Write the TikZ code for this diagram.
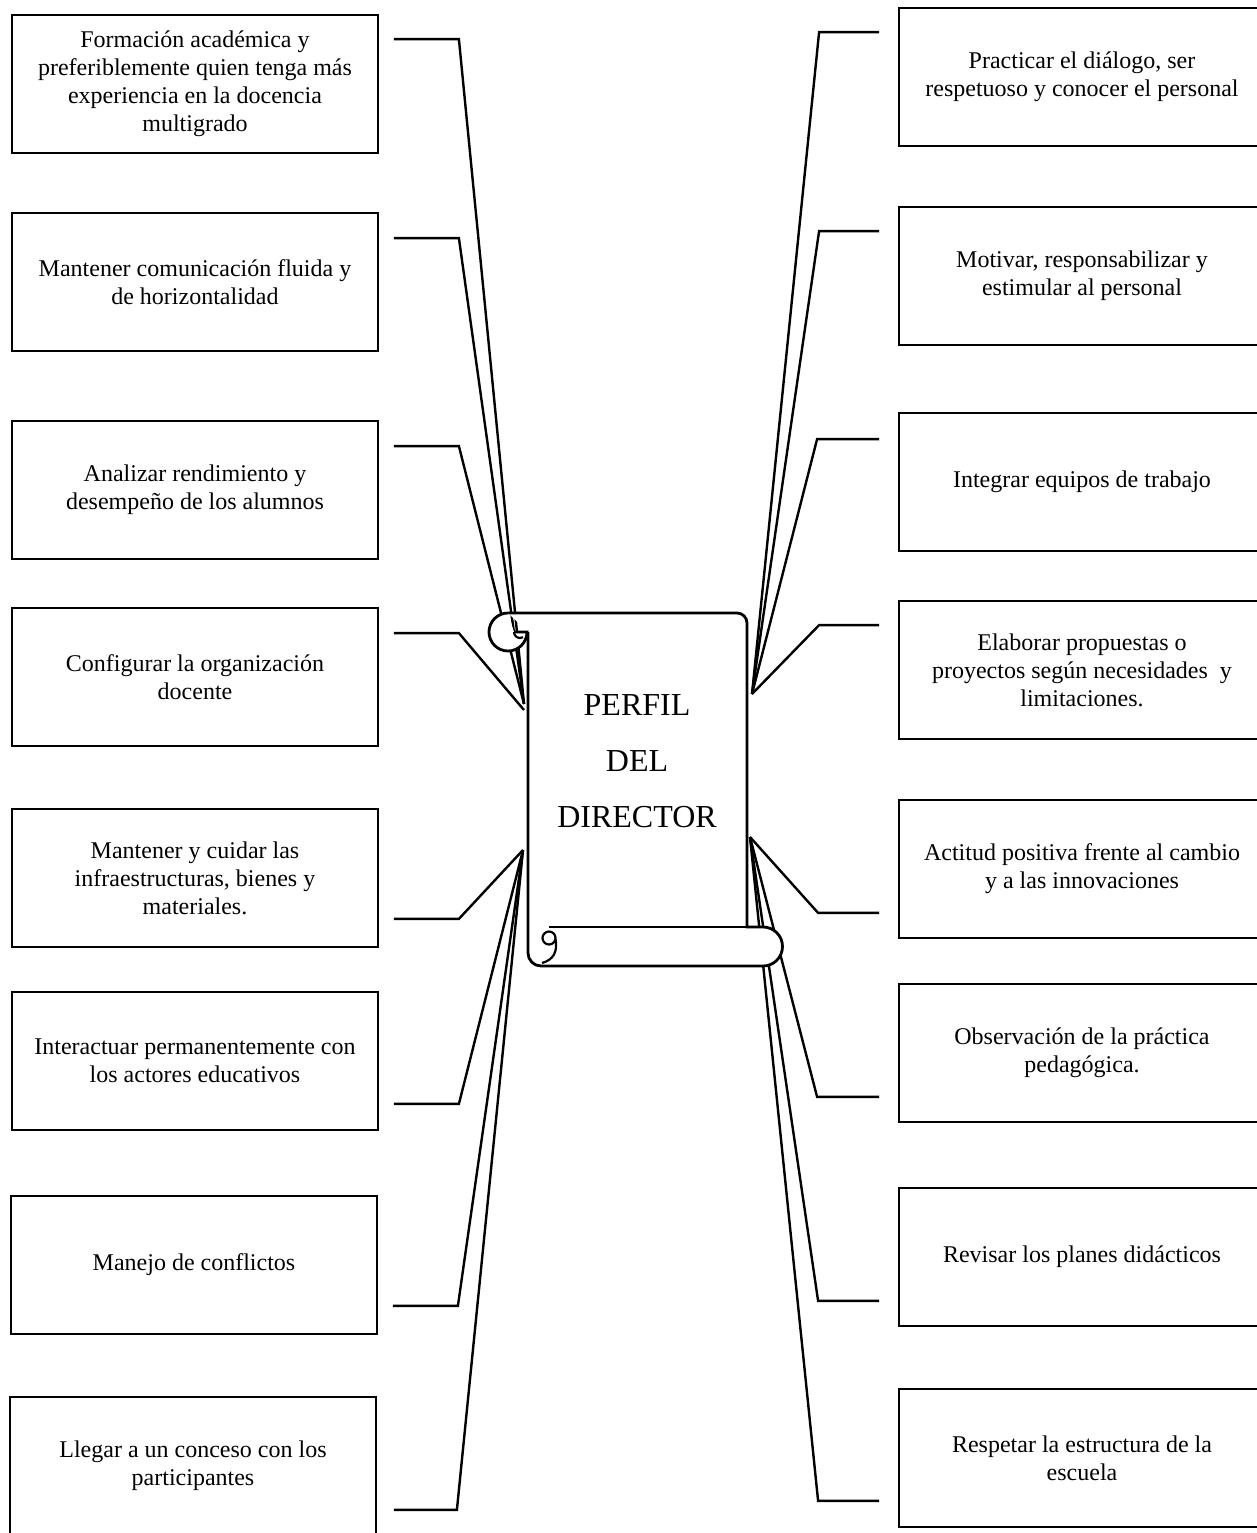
\documentclass[tikz,border=0pt]{standalone}
\usepackage{fontspec}
\setmainfont{Liberation Serif}
\usetikzlibrary{calc}

\tikzset{
  item/.style={draw,line width=0.9pt,minimum width=183pt,minimum height=69pt,
    align=center,inner sep=2pt,font=\fontsize{12}{14}\selectfont},
  link/.style={line width=1.2pt},
  roll/.style={line width=1.4pt,fill=white}
}

\begin{document}
\begin{tikzpicture}[x=0.5pt,y=-0.5pt]
  \useasboundingbox (0,0) rectangle (1257,1533);
  \clip (0,0) rectangle (1257,1533);

  \node[item] (l1) at (195,84) {Formación académica y\\preferiblemente quien tenga más\\experiencia en la docencia\\multigrado};
  \node[item] (l2) at (195,282) {Mantener comunicación fluida y\\de horizontalidad};
  \node[item] (l3) at (195,490) {Analizar rendimiento y\\desempeño de los alumnos};
  \node[item] (l4) at (195,677) {Configurar la organización\\docente};
  \node[item] (l5) at (195,878) {Mantener y cuidar las\\infraestructuras, bienes y\\materiales.};
  \node[item] (l6) at (195,1061) {Interactuar permanentemente con\\los actores educativos};
  \node[item] (l7) at (194,1265) {Manejo de conflictos};
  \node[item] (l8) at (193,1466) {Llegar a un conceso con los\\participantes};

  \node[item] (r1) at (1082,77) {Practicar el diálogo, ser\\respetuoso y conocer el personal};
  \node[item] (r2) at (1082,276) {Motivar, responsabilizar y\\estimular al personal};
  \node[item] (r3) at (1082,482) {Integrar equipos de trabajo};
  \node[item] (r4) at (1082,670) {Elaborar propuestas o\\proyectos según necesidades\ \ y\\limitaciones.};
  \node[item] (r5) at (1082,869) {Actitud positiva frente al cambio\\y a las innovaciones};
  \node[item] (r6) at (1082,1053) {Observación de la práctica\\pedagógica.};
  \node[item] (r7) at (1082,1257) {Revisar los planes didácticos};
  \node[item] (r8) at (1082,1458) {Respetar la estructura de la\\escuela};

  \coordinate (pl-top) at (524,704);
  \coordinate (pl-mid) at (524,710);
  \coordinate (pl-bot) at (523,850);
  \coordinate (pr-top) at (752,694);
  \coordinate (pr-bot) at (750,837);

  \draw[link] ([shift={(15,25)}]l1.north east) -- ++(65,0) -- (pl-top);
  \draw[link] ([shift={(15,26)}]l2.north east) -- ++(65,0) -- (pl-top);
  \draw[link] ([shift={(15,26)}]l3.north east) -- ++(65,0) -- (pl-top);
  \draw[link] ([shift={(15,26)}]l4.north east) -- ++(65,0) -- (pl-mid);
  \draw[link] ([shift={(15,-29)}]l5.south east) -- ++(65,0) -- (pl-bot);
  \draw[link] ([shift={(15,-27)}]l6.south east) -- ++(65,0) -- (pl-bot);
  \draw[link] ([shift={(15,-29)}]l7.south east) -- ++(65,0) -- (pl-bot);
  \draw[link] ([shift={(17,-26)}]l8.south east) -- ++(63,0) -- (pl-bot);

  \draw[link] ([shift={(-19,25)}]r1.north west) -- ++(-60,0) -- (pr-top);
  \draw[link] ([shift={(-19,25)}]r2.north west) -- ++(-60,0) -- (pr-top);
  \draw[link] ([shift={(-19,27)}]r3.north west) -- ++(-62,0) -- (pr-top);
  \draw[link] ([shift={(-19,25)}]r4.north west) -- ++(-60,0) -- (pr-top);
  \draw[link] ([shift={(-19,-26)}]r5.south west) -- ++(-61,0) -- (pr-bot);
  \draw[link] ([shift={(-19,-26)}]r6.south west) -- ++(-62,0) -- (pr-bot);
  \draw[link] ([shift={(-19,-26)}]r7.south west) -- ++(-61,0) -- (pr-bot);
  \draw[link] ([shift={(-19,-27)}]r8.south west) -- ++(-61,0) -- (pr-bot);

  % scroll
  \draw[roll] (508,613) -- (737,613) arc[start angle=270,end angle=360,radius=10]
    -- (747,927) -- (763,927) arc[start angle=270,end angle=450,radius=19.5]
    -- (541,966) arc[start angle=90,end angle=180,radius=13] -- (528,632);
  \draw[line width=1.4pt] (549,927) -- (747,927);
  \draw[roll] (508,613) arc[start angle=270,end angle=0,radius=19] -- (514,632);
  \draw[line width=1.1pt] (514,632) arc[start angle=180,end angle=60,radius=6];
  \draw[line width=1.1pt] (549,938) circle[radius=6.5];
  \draw[line width=1.1pt] (555.5,939) .. controls (558,952) and (553,960) .. (542,963);

  \node[font=\fontsize{16}{28}\selectfont,align=center] (perfil) at (637,761) {PERFIL\\DEL\\DIRECTOR};
\end{tikzpicture}
\end{document}
